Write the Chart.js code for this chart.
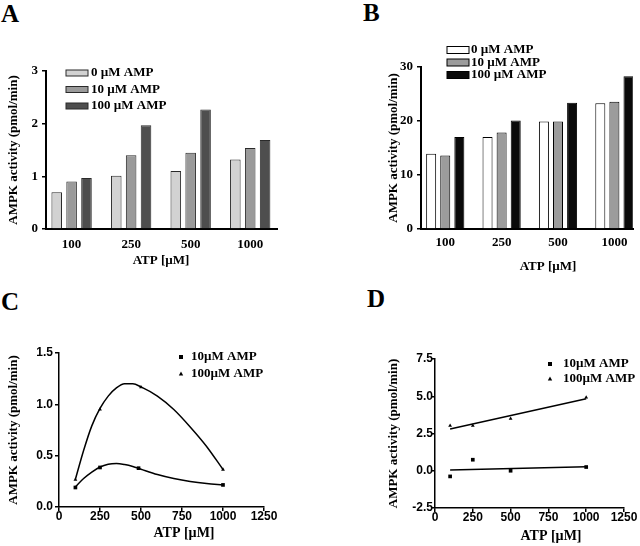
<!DOCTYPE html>
<html>
<head>
<meta charset="utf-8">
<script src="https://cdn.jsdelivr.net/npm/chart.js@4.4.1/dist/chart.umd.min.js"></script>
<style>
  body { margin: 0; background: #fff; width: 640px; height: 546px; position: relative; overflow: hidden; }
  .panel { position: absolute; }
  .letter { position: absolute; font: bold 25px "Liberation Serif", serif; line-height: 24px; color: #000; }
</style>
</head>
<body>
<div class="letter" style="left:1px;top:2px">A</div>
<div class="letter" style="left:363px;top:1px">B</div>
<div class="letter" style="left:1px;top:290px">C</div>
<div class="letter" style="left:367px;top:287px">D</div>

<div class="panel" style="left:0;top:40px;width:285px;height:233px"><canvas id="chartA"></canvas></div>
<div class="panel" style="left:380px;top:40px;width:260px;height:235px"><canvas id="chartB"></canvas></div>
<div class="panel" style="left:0;top:320px;width:280px;height:226px"><canvas id="chartC"></canvas></div>
<div class="panel" style="left:380px;top:320px;width:260px;height:226px"><canvas id="chartD"></canvas></div>

<script>
// ---- data ----
const atpLabels = ["100", "250", "500", "1000"];
const ampLabels = ["0 µM AMP", "10 µM AMP", "100 µM AMP"];

// A
const aAmp0 = [0.70, 1.01, 1.10, 1.32];
const aAmp10 = [0.90, 1.40, 1.45, 1.54];
const aAmp100 = [0.97, 1.97, 2.27, 1.69];

// B
const bAmp0 = [13.95, 17.05, 19.9, 23.3];
const bAmp10 = [13.6, 17.85, 19.9, 23.55];
const bAmp100 = [17.05, 20.1, 23.4, 28.3];

// C (points + fitted curves)
const fitLabels = ["10µM AMP", "100µM AMP"];
const atpDose = [100, 250, 500, 1000];
const cAmp10Dose = [100, 250, 485, 1000];
const cAmp10 = [0.19, 0.385, 0.378, 0.215];
const cAmp100 = [0.267, 0.95, 1.167, 0.365];
const cFitDose = [100, 150, 200, 250, 300, 350, 400, 450, 500, 600, 700, 800, 900, 1000];
const cFit10 = [0.196, 0.277, 0.34, 0.39, 0.417, 0.424, 0.414, 0.395, 0.368, 0.316, 0.277, 0.248, 0.228, 0.215];
const cFit100 = [0.27, 0.55, 0.79, 0.96, 1.08, 1.16, 1.20, 1.20, 1.17, 1.08, 0.95, 0.78, 0.59, 0.365];

// D (points + regression lines)
const dAmp10 = [-0.38, 0.74, 0.0, 0.25];
const dAmp100 = [3.02, 3.02, 3.49, 4.92];
const dFitDose = [100, 1000];
const dFit10 = [0.05, 0.27];
const dFit100 = [2.8, 4.83];

const shadesA = ["#d2d2d2", "#9a9a9a", "#4e4e4e"];
const shadesB = ["#ffffff", "#9c9c9c", "#0a0a0a"];

// ---- defaults ----
const serif = '"Liberation Serif", "Times New Roman", serif';
const sans = '"Liberation Sans", Arial, sans-serif';
Chart.defaults.font.family = serif;
Chart.defaults.font.weight = 'bold';
Chart.defaults.color = '#000';
Chart.defaults.animation = false;
Chart.defaults.responsive = true;
Chart.defaults.maintainAspectRatio = false;
Chart.defaults.plugins.legend.display = false;
Chart.defaults.plugins.tooltip.enabled = false;

// legend inside the plot and the x title, placed like the original figure
const panelText = {
  id: 'panelText',
  afterDraw(chart, args, o) {
    const ctx = chart.ctx, area = chart.chartArea;
    ctx.save();
    ctx.fillStyle = '#000';
    ctx.textBaseline = 'middle';
    ctx.textAlign = 'center';
    ctx.font = 'bold ' + o.titleSize + 'px ' + serif;
    ctx.fillText(o.title, o.titleX, o.titleY);

    ctx.textAlign = 'left';
    ctx.font = 'bold 13px ' + serif;
    const x = area.left + o.dx;
    let y = area.top + o.dy;
    chart.data.datasets.forEach(ds => {
      if (!ds.label) return;
      if (o.marker) {
        ctx.fillStyle = '#000';
        ctx.beginPath();
        if (ds.pointStyle === 'triangle') {
          ctx.moveTo(x, y - 2.5); ctx.lineTo(x + 2.2, y + 1.5); ctx.lineTo(x - 2.2, y + 1.5);
        } else {
          ctx.rect(x - 2, y - 2, 4, 4);
        }
        ctx.fill();
      } else {
        ctx.fillStyle = ds.backgroundColor;
        ctx.fillRect(x, y - o.boxH / 2, o.boxW, o.boxH);
        ctx.strokeStyle = ds.borderColor;
        ctx.lineWidth = 1;
        ctx.strokeRect(x, y - o.boxH / 2, o.boxW, o.boxH);
      }
      ctx.fillStyle = '#000';
      ctx.fillText(ds.label, x + o.textDx, y);
      y += o.row;
    });
    ctx.restore();
  }
};

function barSets(series, shades, edge) {
  return series.map((vals, i) => ({
    label: ampLabels[i],
    data: vals.map((y, j) => ({x: j, y: y})),
    backgroundColor: shades[i],
    borderColor: edge,
    borderWidth: 1,
    categoryPercentage: 0.75,
    barPercentage: 0.71
  }));
}

function yTitle(size) {
  return { display: true, text: 'AMPK activity (pmol/min)', font: {size: size, weight: 'bold', family: serif}, padding: {top: 6, bottom: 0} };
}

function barOptions(o) {
  return {
    layout: { padding: {left: 0, top: o.top, right: o.right, bottom: 0} },
    scales: {
      x: {
        type: 'linear', offset: false, min: o.xMin, max: o.xMax,
        afterFit: s => { s.height = o.xHeight; },
        grid: { display: false, drawTicks: false },
        border: { display: true, color: '#000', width: 2 },
        ticks: { stepSize: 1, includeBounds: false, maxRotation: 0, padding: o.xPad,
                 font: {size: 13, weight: 'bold'}, callback: v => atpLabels[v] ?? '' }
      },
      y: {
        min: 0, max: o.yMax,
        afterFit: s => { s.width = o.yWidth; },
        grid: { drawOnChartArea: false, color: '#000', lineWidth: 1.5, tickLength: 4 },
        border: { display: true, color: '#000', width: 2 },
        ticks: { stepSize: o.yStep, padding: 4, font: {size: 13, weight: 'bold'} },
        title: yTitle(13)
      }
    },
    plugins: { panelText: o.text }
  };
}

new Chart(document.getElementById('chartA'), {
  type: 'bar',
  data: { datasets: barSets([aAmp0, aAmp10, aAmp100], shadesA, '#2a2a2a') },
  options: barOptions({
    top: 31, right: 8, xMin: -0.43, xMax: 3.45, xHeight: 44, xPad: 8, yWidth: 46, yMax: 3, yStep: 1,
    text: { title: 'ATP [µM]', titleSize: 13, titleX: 161, titleY: 221, dx: 20, dy: 2, row: 16.5, boxW: 22, boxH: 6, textDx: 25 }
  }),
  plugins: [panelText]
});

new Chart(document.getElementById('chartB'), {
  type: 'bar',
  data: { datasets: barSets([bAmp0, bAmp10, bAmp100], shadesB, '#000') },
  options: barOptions({
    top: 27, right: 7, xMin: -0.43, xMax: 3.33, xHeight: 46, xPad: 6, yWidth: 41, yMax: 30, yStep: 10,
    text: { title: 'ATP [µM]', titleSize: 13, titleX: 168, titleY: 227, dx: 26, dy: -17, row: 12.5, boxW: 22, boxH: 7, textDx: 24 }
  }),
  plugins: [panelText]
});

function pts(xs, ys) { return xs.map((x, i) => ({x: x, y: ys[i]})); }

function doseOptions(o) {
  return {
    layout: { padding: {left: 0, top: o.top, right: o.right, bottom: 0} },
    scales: {
      x: {
        type: 'linear', min: 0, max: 1250,
        afterFit: s => { s.height = o.xHeight; },
        grid: { drawOnChartArea: false, color: '#000', lineWidth: 1.5, tickLength: 4 },
        border: { display: true, color: '#000', width: 1.5 },
        ticks: { stepSize: 250, padding: -2, maxRotation: 0, font: {size: 12, weight: 'bold', family: sans},
                 callback: v => String(v) }
      },
      y: {
        type: 'linear', min: o.yMin, max: o.yMax,
        afterFit: s => { s.width = o.yWidth; },
        grid: { drawOnChartArea: false, color: '#000', lineWidth: 1.5, tickLength: o.yTick },
        border: { display: true, color: '#000', width: 1.5 },
        ticks: { stepSize: o.yStep, padding: o.yPad, font: {size: 12, weight: 'bold', family: sans},
                 callback: v => v.toFixed(1) },
        title: yTitle(13)
      }
    },
    plugins: { panelText: o.text }
  };
}

function doseSets(d10x, d10, d100x, d100, fitX, fit10, fit100, smooth) {
  const line = { showLine: true, pointRadius: 0, borderColor: '#000', borderWidth: 1.5,
                 cubicInterpolationMode: smooth ? 'monotone' : 'default', tension: 0 };
  return [
    { label: fitLabels[0], data: pts(d10x, d10), pointStyle: 'rect', pointRadius: 2.6,
      backgroundColor: '#000', borderWidth: 0 },
    { label: fitLabels[1], data: pts(d100x, d100), pointStyle: 'triangle', pointRadius: 2.2,
      backgroundColor: '#000', borderWidth: 0 },
    Object.assign({ data: pts(fitX, fit10) }, line),
    Object.assign({ data: pts(fitX, fit100) }, line)
  ];
}

new Chart(document.getElementById('chartC'), {
  type: 'scatter',
  data: { datasets: doseSets(cAmp10Dose, cAmp10, atpDose, cAmp100, cFitDose, cFit10, cFit100, true) },
  options: doseOptions({
    top: 33, right: 16, xHeight: 39, yWidth: 59, yMin: 0, yMax: 1.5, yStep: 0.5, yTick: 4, yPad: 2,
    text: { title: 'ATP [µM]', titleSize: 14, titleX: 184, titleY: 213, marker: true, dx: 122, dy: 4, row: 17, textDx: 10 }
  }),
  plugins: [panelText]
});

new Chart(document.getElementById('chartD'), {
  type: 'scatter',
  data: { datasets: doseSets(atpDose, dAmp10, atpDose, dAmp100, dFitDose, dFit10, dFit100, false) },
  options: doseOptions({
    top: 39, right: 16, xHeight: 38, yWidth: 55, yMin: -2.5, yMax: 7.5, yStep: 2.5, yTick: 3, yPad: -1,
    text: { title: 'ATP [µM]', titleSize: 14, titleX: 171, titleY: 216, marker: true, dx: 115, dy: 5, row: 15, textDx: 13 }
  }),
  plugins: [panelText]
});
</script>
</body>
</html>
